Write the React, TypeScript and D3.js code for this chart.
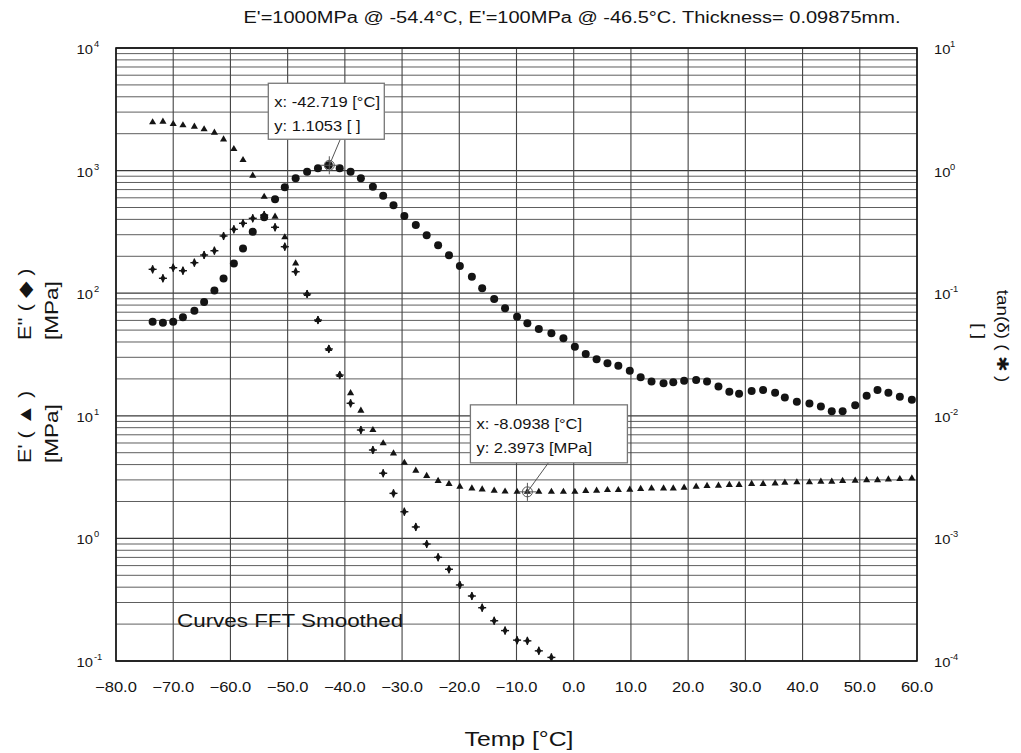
import React from "react";
import * as d3 from "d3";

// Temperatures (°C) of the measurement points
const temps = [-73.6,-71.8,-70.0,-68.3,-66.3,-64.6,-62.8,-61.2,-59.4,-57.8,-56.1,-54.1,-52.2,-50.5,-48.6,-46.6,-44.7,-42.8,-40.9,-39.0,-37.2,-35.1,-33.3,-31.5,-29.6,-27.6,-25.7,-23.7,-21.8,-19.9,-17.8,-16.0,-13.9,-12.0,-9.9,-8.1,-6.1,-3.9,-1.8,0.2,2.1,4.0,5.9,7.8,9.8,11.7,13.6,15.7,17.4,19.3,21.4,23.3,25.3,27.2,28.9,31.1,33.1,35.2,36.9,39.0,41.2,43.2,45.1,47.0,49.2,51.2,53.1,55.0,57.0,59.1];

// E' storage modulus (MPa) – triangles, left axis
const storageModulus = [2477,2506,2399,2342,2280,2173,2037,1799,1500,1220,908,612,421,286,175,98.5,60.4,35.1,21.5,15.3,11.0,7.66,5.97,4.94,4.14,3.57,3.23,2.94,2.78,2.64,2.56,2.51,2.45,2.41,2.40,2.40,2.40,2.40,2.40,2.40,2.44,2.45,2.48,2.48,2.50,2.53,2.56,2.56,2.56,2.59,2.64,2.68,2.69,2.73,2.73,2.78,2.78,2.81,2.85,2.87,2.87,2.90,2.90,2.94,2.96,2.99,2.99,3.03,3.05,3.09];

// E'' loss modulus (MPa) – diamonds, left axis (falls below axis after -4 °C)
const lossModulus = [156.6,132.3,161.4,152.6,177.4,204.9,222.1,292.8,332,371.7,408.2,434,344.8,239.5,149.7,98.5,60.4,35.1,21.5,12.65,7.66,5.26,3.40,2.33,1.65,1.24,0.900,0.701,0.560,0.417,0.339,0.272,0.213,0.177,0.148,0.146,0.121,0.107];

// tan(δ) – filled markers, right axis
const tanDelta = [0.0586,0.0574,0.0586,0.0636,0.0720,0.0848,0.105,0.132,0.175,0.232,0.317,0.416,0.583,0.731,0.865,0.980,1.044,1.105,1.044,0.980,0.865,0.739,0.624,0.521,0.426,0.360,0.297,0.246,0.204,0.167,0.136,0.110,0.0897,0.0753,0.0643,0.0568,0.0511,0.0471,0.0429,0.0366,0.0319,0.0289,0.0268,0.0256,0.0233,0.0206,0.0190,0.0184,0.0188,0.0193,0.0196,0.0190,0.0173,0.0157,0.0151,0.0159,0.0162,0.0154,0.0141,0.0130,0.0126,0.0119,0.0109,0.0109,0.0122,0.0146,0.0162,0.0154,0.0143,0.0135];

const xTicks = [-80,-70,-60,-50,-40,-30,-20,-10,0,10,20,30,40,50,60];
const leftExponents = [-1,0,1,2,3,4];
const rightExponents = [-4,-3,-2,-1,0,1];

const titleText = "E'=1000MPa @ -54.4°C, E'=100MPa @ -46.5°C. Thickness= 0.09875mm.";
const xTitle = "Temp [°C]";
const noteText = "Curves FFT Smoothed";

const cursorX = [-42.719, -8.0938];
const cursorY = [1.1053, 2.3973];
const cursorLabels = [["x: -42.719 [°C]", "y: 1.1053 [ ]"], ["x: -8.0938 [°C]", "y: 2.3973 [MPa]"]];

const FONT = "'Liberation Sans', Arial, Helvetica, sans-serif";
const INK = "#141414";

function Txt(props: any) {
  const { x, y, size, anchor = "start", rotate = 0, sx = 1.18, children, weight } = props;
  return (
    <text
      transform={`translate(${x},${y}) rotate(${rotate}) scale(${sx},1)`}
      fontSize={size}
      textAnchor={anchor}
      fontFamily={FONT}
      fontWeight={weight}
      fill={INK}
    >
      {children}
    </text>
  );
}

export default function App() {
  const W = 1021, H = 753;
  const L = 116, R = 917, T = 48, B = 661;

  const x = d3.scaleLinear().domain([-80, 60]).range([L, R]);
  const yL = d3.scaleLog().domain([0.1, 1e4]).range([B, T]);
  const yR = d3.scaleLog().domain([1e-4, 10]).range([B, T]);

  // horizontal log grid
  const hGrid: number[] = [];
  for (let k = -1; k <= 3; k++) for (let m = 1; m <= 9; m++) hGrid.push(m * Math.pow(10, k));
  hGrid.push(1e4);

  const tri = d3.symbol().type(d3.symbolTriangle).size(22)()!;
  const dia = d3.symbol().type(d3.symbolDiamond).size(22)()!;
  const fmt = d3.format(".1f");

  const boxes = [
    { dx0: -61, dx1: 55, dy0: -82, dy1: -26, lx: 11, yScale: yR },
    { dx0: -57, dx1: 100, dy0: -87, dy1: -29, lx: 21, yScale: yL },
  ];

  const isMajor = (v: number) => Math.abs(Math.log10(v) - Math.round(Math.log10(v))) < 1e-9;

  return (
    <svg width={W} height={H} style={{ position: "absolute", left: 0, top: 0, background: "#fff" }}>
      <rect x={0} y={0} width={W} height={H} fill="#fff" />
      <defs>
        <clipPath id="plot">
          <rect x={L} y={T} width={R - L} height={B - T} />
        </clipPath>
      </defs>

      {/* grid */}
      <g>
        {hGrid.map((v, i) => (
          <line key={"h" + i} x1={L} x2={R} y1={yL(v)} y2={yL(v)}
            stroke={isMajor(v) ? "#3a3a3a" : "#5e5e5e"}
            strokeWidth={isMajor(v) ? 1.3 : 1} />
        ))}
        {xTicks.map((t) => (
          <line key={"v" + t} x1={x(t)} x2={x(t)} y1={T} y2={B} stroke="#444" strokeWidth={1.1} />
        ))}
      </g>

      {/* frame */}
      <rect x={L} y={T} width={R - L} height={B - T} fill="none" stroke={INK} strokeWidth={1.6} />

      {/* data */}
      <g clipPath="url(#plot)" fill={INK}>
        {tanDelta.map((v, i) => (
          <circle key={"t" + i} cx={x(temps[i])} cy={yR(v)} r={4} />
        ))}
        {lossModulus.map((v, i) => (
          <g key={"l" + i} transform={`translate(${x(temps[i])},${yL(v)})`}>
            <path d={dia} />
            <line x1={-4} x2={4} y1={0} y2={0} stroke={INK} strokeWidth={1.4} />
            <line x1={0} x2={0} y1={-4} y2={4} stroke={INK} strokeWidth={1.4} />
          </g>
        ))}
        {storageModulus.map((v, i) => (
          <path key={"s" + i} d={tri} transform={`translate(${x(temps[i])},${yL(v)})`} />
        ))}
      </g>

      {/* cursors */}
      {boxes.map((b, i) => {
        const px = x(cursorX[i]);
        const py = b.yScale(cursorY[i]);
        return (
          <g key={"c" + i}>
            <line x1={px + b.lx} y1={py + b.dy1} x2={px} y2={py} stroke="#555" strokeWidth={1} />
            <circle cx={px} cy={py} r={5} fill="none" stroke="#555" strokeWidth={1} />
            <line x1={px - 9} x2={px + 9} y1={py} y2={py} stroke="#555" strokeWidth={1} />
            <line x1={px} x2={px} y1={py - 9} y2={py + 9} stroke="#555" strokeWidth={1} />
            <rect x={px + b.dx0} y={py + b.dy0} width={b.dx1 - b.dx0} height={b.dy1 - b.dy0}
              fill="#fff" stroke="#777" strokeWidth={1.3} />
            <Txt x={px + b.dx0 + 6} y={py + b.dy0 + 24} size={14}>{cursorLabels[i][0]}</Txt>
            <Txt x={px + b.dx0 + 6} y={py + b.dy0 + 48} size={14}>{cursorLabels[i][1]}</Txt>
          </g>
        );
      })}

      {/* note */}
      <Txt x={177} y={627} size={19}>{noteText}</Txt>

      {/* x tick labels */}
      {xTicks.map((t) => (
        <Txt key={"xl" + t} x={x(t)} y={692} size={14} anchor="middle">{fmt(t)}</Txt>
      ))}

      {/* left tick labels */}
      {leftExponents.map((e) => {
        const yy = yL(Math.pow(10, e));
        return (
          <g key={"ly" + e}>
            <Txt x={93} y={yy + 6} size={12.5} anchor="end">10</Txt>
            <Txt x={94} y={yy - 1} size={8.5} sx={1.1}>{String(e)}</Txt>
          </g>
        );
      })}

      {/* right tick labels */}
      {rightExponents.map((e) => {
        const yy = yR(Math.pow(10, e));
        return (
          <g key={"ry" + e}>
            <Txt x={934} y={yy + 6} size={12.5}>10</Txt>
            <Txt x={950} y={yy - 1} size={8.5} sx={1.1}>{String(e)}</Txt>
          </g>
        );
      })}

      {/* titles */}
      <Txt x={572} y={23} size={16} sx={1.25} anchor="middle">{titleText}</Txt>
      <Txt x={519} y={746} size={21} anchor="middle">{xTitle}</Txt>

      <Txt x={31} y={340} size={18} rotate={-90} sx={1.2}>{"E'' ( ◆ )"}</Txt>
      <Txt x={58} y={340} size={18} rotate={-90} sx={1.25}>[MPa]</Txt>
      <Txt x={31} y={463} size={18} rotate={-90} sx={1.2}>{"E' ( ▲ )"}</Txt>
      <Txt x={58} y={463} size={18} rotate={-90} sx={1.25}>[MPa]</Txt>

      <Txt x={997} y={336} size={16} rotate={90} anchor="middle">{"tan(δ) ( ✱ )"}</Txt>
      <Txt x={973} y={331} size={16} rotate={90} anchor="middle">[ ]</Txt>
    </svg>
  );
}
